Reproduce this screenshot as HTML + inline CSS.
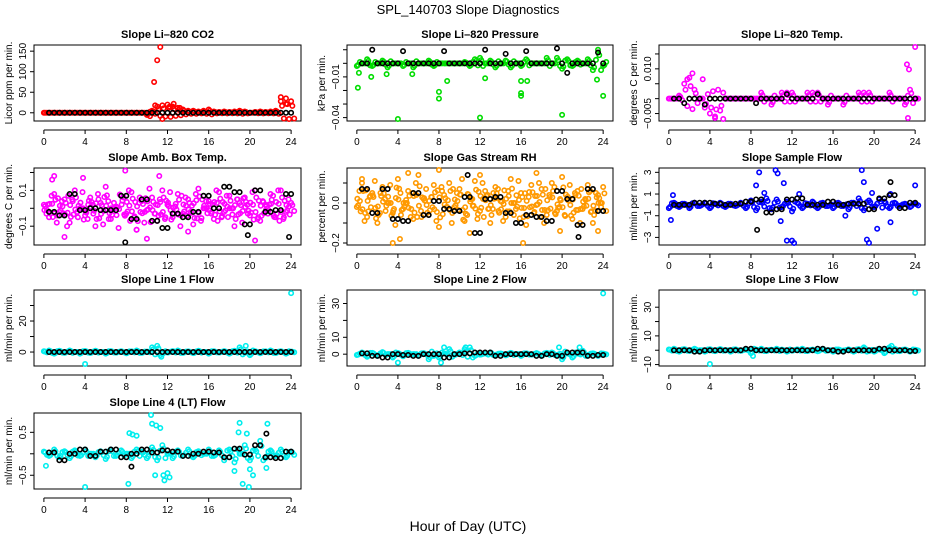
<!DOCTYPE html>
<html><head><meta charset="utf-8">
<style>
html,body{margin:0;padding:0;background:#fff;}
svg{display:block;font-family:"Liberation Sans",sans-serif;}
</style></head>
<body>
<svg id="chart" width="936" height="540" viewBox="0 0 936 540" xmlns="http://www.w3.org/2000/svg">
<text x="468" y="14" text-anchor="middle" font-size="13">SPL_140703  Slope Diagnostics</text>
<text x="468" y="531" text-anchor="middle" font-size="14">Hour of Day (UTC)</text>
</svg>
<script>
const xTicks = [0,4,8,12,16,20,24];
// --- CO2 ---
const co2Col = [0,0,0,0,0,0,0,0,0,0,0,0,0,0,0,0,0,0,0,0,-5,5,15,18,20,15,12,8,5,5,3,5,8,3,2,3,2,3,5,3,0,2,3,2,3,5,28,35,28];
const co2OutH = [10.7,11,11.3,11.5,10.3,12.6,10.8,12.2,13.2,23,23.5];
const co2OutV = [75,128,165,-18,-8,22,18,15,12,38,22];
const co2Blk = [0,0,0,0,0,0,0,0,0,0,0,0,0,0,0,0,0,0,0,0,0,0,0,0];
// --- Pressure ---
const presCol = [-0.002,0,0.003,-0.002,0,0.002,-0.003,0,0,-0.002,0,-0.003,0,0,0.002,-0.002,0,0,0,0,0,0.001,-0.002,0.003,0.004,0,0.002,-0.003,0,0.002,-0.003,0,-0.002,0.003,0,0,0,0.004,0,0.004,-0.004,0.003,-0.002,0.002,0,0.003,-0.005,0.01,-0.002];
const presOutH = [0.1,4,8,8,12,16,16,20,24,1.4,8.8,12.5,16,16.6,23.4,2.9,5.4,0.2];
const presOutV = [-0.018,-0.041,-0.021,-0.026,-0.04,-0.022,-0.024,-0.038,-0.024,-0.01,-0.013,-0.011,-0.013,-0.013,-0.012,-0.008,-0.008,-0.007];
const presBlk = [0,0.01,0,0,0.009,0,0,0,0.009,0,0,0,0.01,0,0.007,0,0.009,0,0,0.011,-0.007,0,0,0.008];
// --- Li-820 Temp ---
const tempCol = [0,0,0.001,0.005,0.007,0.003,0,-0.003,-0.005,-0.006,-0.004,0,0,0,0,0,0,0,0.002,0,-0.002,0,0.002,0.002,0.002,0,0,0.002,0.002,0.002,0,-0.002,0,0,-0.002,0,0,0.002,0.002,0.002,0,0,0,0.002,0,0,-0.002,0.003,0];
const tempOutH = [1.8,2.3,3.3,5.3,23.2,23.4,24,23.3,4.5];
const tempOutV = [0.0065,0.0085,0.0065,-0.0075,0.0115,0.0098,0.0175,-0.0065,-0.0065];
const tempBlk = [0,-0.0015,0,-0.002,0,0,0,0,-0.0015,0,0,0.0015,0,0,0.0015,0,0,0,0,0,0,0,0,0];
// --- Amb box temp ---
const ambCol = [0.02,-0.05,0.08,-0.02,0.05,-0.08,0.1,0.0,-0.04,0.06,-0.1,0.03,0.12,-0.06,0.01,0.07,-0.03,0.09,-0.12,0.04,-0.01,0.06,-0.07,0.1,0.02,-0.05,0.08,-0.03,0.05,-0.09,0.11,0.0,0.04,-0.06,0.09,-0.02,0.07,-0.1,0.03,0.06,-0.04,0.1,-0.07,0.02,0.08,-0.05,0.1,-0.02,0.03];
const ambCol2 = [-0.03,0.07,-0.08,0.04,-0.1,0.05,-0.02,0.09,-0.06,0.02,0.08,-0.09,0.04,0.0,-0.11,0.06,0.1,-0.05,0.03,-0.08,0.11,-0.03,0.05,-0.06,0.09,0.01,-0.1,0.06,-0.02,0.08,-0.07,0.04,-0.03,0.1,-0.05,0.07,0.0,0.05,-0.08,0.02,0.09,-0.06,0.04,-0.03,0.07,0.1,-0.06,0.05];
const ambOutH = [0.8,1,2,7.9,9,10,11.2,14,20.5,3.8];
const ambOutV = [0.16,0.18,-0.16,0.21,-0.12,-0.17,0.18,-0.13,-0.18,0.17];
const ambBlk = [-0.02,-0.04,0.08,-0.01,0.0,-0.01,-0.01,0.07,-0.06,0.05,-0.07,-0.11,-0.03,-0.05,-0.02,0.07,0.0,0.12,0.09,-0.09,0.1,-0.02,-0.01,0.08];
// --- Gas stream RH ---
const rhCol = [-0.02,0.1,-0.07,0.05,-0.1,0.08,0.0,-0.05,0.12,-0.03,0.06,-0.08,0.14,0.02,-0.06,0.09,-0.12,0.04,0.1,-0.02,0.07,-0.09,0.03,0.11,-0.04,0.06,-0.1,0.08,0.01,-0.07,0.12,-0.03,0.05,-0.11,0.09,-0.01,0.07,-0.06,0.1,-0.04,0.13,0.02,-0.08,0.06,-0.03,0.09,-0.1,0.04,0.08];
const rhCol2 = [0.06,-0.09,0.03,0.11,-0.05,0.02,0.09,-0.11,0.05,0.0,-0.07,0.1,-0.04,0.07,0.03,-0.09,0.08,-0.02,-0.1,0.05,0.12,-0.06,0.02,-0.08,0.1,0.04,-0.03,0.07,-0.09,0.06,0.0,0.11,-0.07,0.03,-0.05,0.1,-0.1,0.04,0.08,-0.02,-0.06,0.09,0.05,-0.1,0.02,0.06,-0.04,0.0];
const rhOutH = [3.5,5,8,16.2,17.5,0.5,11,19.8,23.5,12,4.2];
const rhOutV = [-0.2,0.15,0.17,-0.2,0.15,0.12,-0.15,-0.14,-0.14,0.14,-0.18];
const rhBlk = [0.07,-0.05,0.07,-0.08,-0.09,0.05,-0.06,0.01,-0.03,-0.04,0.03,-0.15,0.02,0.03,-0.05,-0.1,-0.06,-0.07,-0.09,0.06,0.02,-0.11,0.07,-0.04];
// --- Sample flow ---
const sfCol = [-0.3,0.2,-0.2,0.1,-0.3,0.2,-0.1,0.2,-0.3,0.1,0.2,-0.2,0.1,-0.1,0.2,-0.3,0.4,-0.5,0.3,0.6,-0.4,0.5,-0.2,0.3,-0.6,0.2,-0.3,0.1,0.3,-0.3,0.2,-0.1,-0.3,0.2,-0.1,-0.4,0.2,0.6,-0.5,0.4,-0.2,0.5,0.3,-0.3,0.2,-0.1,0.1,-0.2,0.1];
const sfOutH = [0.2,0.4,8.5,8.8,10.4,10.6,11.2,11.5,12,12.2,10.9,18.8,19,19.3,19.5,19.8,20.3,21.6,21.6,24,17.2,9.3,12.7];
const sfOutV = [-1.4,0.9,1.8,3,3.2,2.9,2,-3.3,-3.3,-3.6,-1.5,3.2,2.1,-3.2,-3.5,1.1,-2.2,-1.6,1,1.8,-1,1.1,1];
const sfBlk = [0,0,0.2,0.2,0.1,0,0.1,0.3,0.5,-0.7,-0.4,0.5,0.6,0,0,0.3,0,0.1,0.1,-0.4,0.6,0.9,-0.3,0.2];
// --- Line 1 flow ---
const l1Col = [0.5,1,-1,0.8,-0.5,1,0,-1,0.7,-0.6,0.8,0,-1,0.6,-0.4,0.5,-0.8,0.4,1,-0.5,0.3,3,4,-1,-0.3,0.6,1,-0.5,0.4,-0.7,0.8,0,-1,0.5,-0.3,0.6,-1,0.8,3,-0.5,-2,0.5,-0.8,0.4,1,-0.6,0.5,-1,0.3];
const l1OutH = [4,24,19.6,11.4];
const l1OutV = [-8,38,4,-3];
const l1Blk = [0,0,0,0,0,0,0,0,0,0,0,0,0,0,0,0,0,0,0,0,0,0,0,0];
// --- Line 2 flow ---
const l2Col = [-0.5,1,-1.5,0.8,-1,1.2,0,-2,0.7,-1.2,0.8,0,-1,0.6,-3,-1,-2,0.4,3,-0.5,1,3,4,-1,-0.3,0.6,1,-0.5,0.4,-0.7,0.8,0,-1,0.5,-0.3,0.6,-1,0.8,1,-0.5,-3,0.5,-2,0.4,2,-0.6,0.5,-1,0.3];
const l2OutH = [4,24,8.5,10.6,19.7,21.7,8.2];
const l2OutV = [-5,36,4,4,4,4,-5];
const l2Blk = [0.5,-1,-2,0,-0.5,-1,0,0,-2,0,0.5,1,1,-1,0,0,0,-1,0,-1,1,1,-1,-0.5];
// --- Line 3 flow ---
const l3Col = [0.5,1,-1,0.8,-0.5,1,0,-1,0.7,-0.6,0.8,0,-1,0.6,-0.4,0.5,-2,0.4,1,-0.5,0.3,1,0.4,-1,-0.3,0.6,1,-0.5,0.4,-0.7,0.8,0,-1,0.5,-0.3,0.6,-1,0.8,2,-0.5,-1,0.5,-2,2,1,-0.6,0.5,-1,0.3];
const l3OutH = [4,24,8.2,21.7];
const l3OutV = [-10,40,-4,3];
const l3Blk = [0,0,-1,0,0,0,0,1,0,0,0,0,0,0,1,0,-1,0,0,0,1,0,0,-0.5];
// --- Line 4 flow ---
const l4Col = [0.05,-0.05,0.1,-0.08,0.06,-0.1,0.08,-0.05,0.1,0.0,-0.08,0.06,-0.12,0.1,-0.05,0.08,0.0,-0.1,0.1,0.05,-0.1,0.15,-0.15,0.2,0.0,-0.1,0.08,-0.05,0.1,-0.08,0.06,0.0,0.1,-0.05,0.08,-0.15,0.1,-0.2,0.0,0.2,-0.15,0.1,0.3,-0.1,0.08,-0.05,0.1,-0.08,0.05];
const l4OutH = [0.2,4,8.2,8.3,8.6,9,10.4,10.5,10.9,11.3,11.6,12,12.2,19,18.5,18.9,19.3,19.9,19.7,20,20.3,21.7,21.6,10.8,11.7];
const l4OutV = [-0.28,-0.8,-0.7,0.48,0.45,0.42,0.92,0.7,0.66,0.6,-0.5,-0.45,-0.55,0.72,-0.4,0.5,-0.7,-0.78,0.47,-0.36,-0.5,0.7,-0.33,-0.5,-0.62];
const l4Blk = [0.03,-0.15,0,0.1,-0.05,0.05,0.1,-0.08,0,0.1,0.03,0.08,0.05,-0.05,0,0.05,0.03,-0.08,0.12,-0.02,0.2,-0.08,-0.1,0.05];
const l4BlkOutH = [8.5,21.6];
const l4BlkOutV = [-0.3,0.47];

const panels = [
 {name:'co2',title:'Slope Li\u2013820 CO2',ylab:'Licor ppm per min.',col:'#ff0000',c:co2Col,c2:null,oh:co2OutH,ov:co2OutV,k:co2Blk,dupK:true,kh:[],kv:[],ticks:[0,50,100,150],labels:['0','50','100','150'],ymin:-20,ymax:165},
 {name:'pressure',title:'Slope Li\u2013820 Pressure',ylab:'kPa per min.',col:'#00dd00',c:presCol,c2:null,oh:presOutH,ov:presOutV,k:presBlk,dupK:false,kh:[],kv:[],ticks:[-0.04,-0.03,-0.02,-0.01,0,0.01],labels:['\u22120.04','','','\u22120.01','',''],ymin:-0.0425,ymax:0.0135},
 {name:'li820-temp',title:'Slope Li\u2013820 Temp.',ylab:'degrees C per min.',col:'#ff00ff',c:tempCol,c2:null,oh:tempOutH,ov:tempOutV,k:tempBlk,dupK:false,kh:[],kv:[],ticks:[-0.005,0,0.005,0.01,0.015],labels:['\u22120.005','','','0.010',''],ymin:-0.0075,ymax:0.018},
 {name:'amb-box-temp',title:'Slope Amb. Box Temp.',ylab:'degrees C per min.',col:'#ff00ff',c:ambCol,c2:ambCol2,oh:ambOutH,ov:ambOutV,k:ambBlk,dupK:true,kh:[7.9,19.8,23.8],kv:[-0.19,-0.15,-0.16],ticks:[-0.1,0,0.1,0.2],labels:['\u22120.1','','0.1',''],ymin:-0.205,ymax:0.225},
 {name:'gas-stream-rh',title:'Slope Gas Stream RH',ylab:'percent per min.',col:'#ff9900',c:rhCol,c2:rhCol2,oh:rhOutH,ov:rhOutV,k:rhBlk,dupK:true,kh:[21.6,10.8],kv:[-0.17,0.14],ticks:[-0.2,-0.1,0,0.1],labels:['\u22120.2','','0.0',''],ymin:-0.21,ymax:0.175},
 {name:'sample-flow',title:'Slope Sample Flow',ylab:'ml/min per min.',col:'#0000ff',c:sfCol,c2:null,oh:sfOutH,ov:sfOutV,k:sfBlk,dupK:true,kh:[8.6,21.6],kv:[-2.3,2.1],ticks:[-3,-2,-1,0,1,2,3],labels:['\u22123','','\u22121','','1','','3'],ymin:-3.7,ymax:3.4},
 {name:'line1-flow',title:'Slope Line 1 Flow',ylab:'ml/min per min.',col:'#00eeee',c:l1Col,c2:null,oh:l1OutH,ov:l1OutV,k:l1Blk,dupK:true,kh:[],kv:[],ticks:[0,10,20,30],labels:['0','','20',''],ymin:-9,ymax:40},
 {name:'line2-flow',title:'Slope Line 2 Flow',ylab:'ml/min per min.',col:'#00eeee',c:l2Col,c2:null,oh:l2OutH,ov:l2OutV,k:l2Blk,dupK:true,kh:[],kv:[],ticks:[0,10,20,30],labels:['0','10','','30'],ymin:-7,ymax:38},
 {name:'line3-flow',title:'Slope Line 3 Flow',ylab:'ml/min per min.',col:'#00eeee',c:l3Col,c2:null,oh:l3OutH,ov:l3OutV,k:l3Blk,dupK:true,kh:[],kv:[],ticks:[-10,0,10,20,30],labels:['\u221210','','10','','30'],ymin:-11,ymax:42},
 {name:'line4-flow',title:'Slope Line 4 (LT) Flow',ylab:'ml/min per min.',col:'#00eeee',c:l4Col,c2:null,oh:l4OutH,ov:l4OutV,k:l4Blk,dupK:true,kh:l4BlkOutH,kv:l4BlkOutV,ticks:[-0.5,0,0.5],labels:['\u22120.5','','0.5'],ymin:-0.82,ymax:0.95}
];

const NS='http://www.w3.org/2000/svg';
const svg=document.getElementById('chart');
const colsX=[[34,301],[347,613],[659,925]];
const rowsY=[[45,121],[168,245],[290,366],[413,489]];
function mk(tag,attrs,parent){const e=document.createElementNS(NS,tag);for(const k in attrs)e.setAttribute(k,attrs[k]);(parent||svg).appendChild(e);return e;}

panels.forEach((p,i)=>{
  const [x0,x1]=colsX[i%3];const [y0,y1]=rowsY[Math.floor(i/3)];
  const g=mk('g',{});
  
  
  const span=(x1-x0)/(25.92);
  const xs=h=>x0+(h+0.96)*span;
  const ys=v=>y1-(v-p.ymin)/(p.ymax-p.ymin)*(y1-y0);
  const t=mk('text',{x:(x0+x1)/2,y:y0-7,'text-anchor':'middle','font-size':'11','font-weight':'bold'},g);
  t.textContent=p.title;
  
  
  const box=mk('rect',{x:x0,y:y0,width:x1-x0,height:y1-y0,fill:'none',stroke:'#000','stroke-width':1},g);
  
  
  const ay=y1+9;
  const xa=mk('line',{x1:xs(0),x2:xs(24),y1:ay,y2:ay,stroke:'#000'},g);
  
  
  xTicks.forEach(v=>{
    mk('line',{x1:xs(v),x2:xs(v),y1:ay,y2:ay+4,stroke:'#000'},g);
    const tl=mk('text',{x:xs(v),y:ay+15,'text-anchor':'middle','font-size':'10'},g);
    tl.textContent=v;
    
    
  });
  p.ticks.forEach((v,j)=>{
    const yy=ys(v);
    mk('line',{x1:x0-4,x2:x0,y1:yy,y2:yy,stroke:'#000'},g);
    if(p.labels[j]){
      const tl=mk('text',{x:x0-8,y:yy,'text-anchor':'middle','font-size':'10',transform:`rotate(-90 ${x0-8} ${yy})`},g);
      tl.textContent=p.labels[j];
      
      
    }
  });
  const yl=mk('text',{x:x0-22,y:(y0+y1)/2,'text-anchor':'middle','font-size':'10',transform:`rotate(-90 ${x0-22} ${(y0+y1)/2})`},g);
  yl.textContent=p.ylab;
  
  
  const dot=(h,v,col,nm)=>{
    let yy=ys(v); yy=Math.max(y0+2,Math.min(y1-2,yy));
    const c=mk('circle',{cx:xs(h),cy:yy,r:2.2,fill:'none',stroke:col,'stroke-width':1.6},g);
    
    
  };
  p.c.forEach((v,j)=>{dot(j*0.5,v,p.col,'colored-point');dot(j*0.5+0.12,v*0.6,p.col,'colored-point');dot(j*0.5+0.3,-v*0.5,p.col,'colored-point');});
  if(p.c2) p.c2.forEach((v,j)=>{dot(j*0.5+0.25,v,p.col,'colored-point');dot(j*0.5+0.37,-v*0.7,p.col,'colored-point');dot(j*0.5+0.05,v*0.35,p.col,'colored-point');});
  p.oh.forEach((h,j)=>dot(h,p.ov[j],p.col,'outlier-point'));
  p.k.forEach((v,j)=>dot(j+0.5,v,'#000','black-point'));
  p.k.forEach((v,j)=>dot(j+1,p.dupK?v:0,'#000','black-point'));
  p.kh.forEach((h,j)=>dot(h,p.kv[j],'#000','black-point'));
});
</script>
</body></html>
